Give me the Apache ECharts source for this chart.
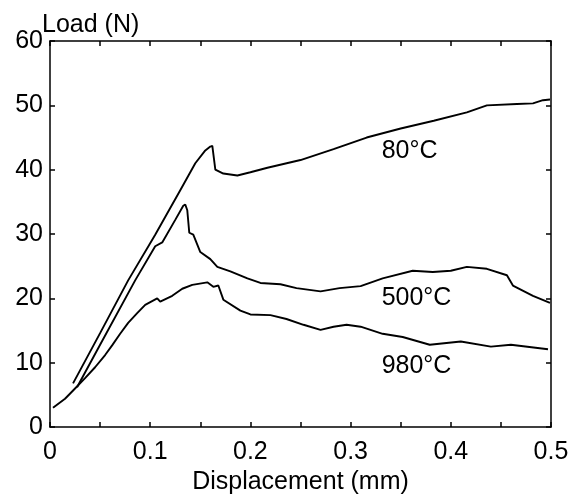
<!DOCTYPE html>
<html>
<head>
<meta charset="utf-8">
<script src="https://cdn.jsdelivr.net/npm/echarts@6/dist/echarts.min.js"></script>
<style>html,body{margin:0;padding:0;background:#fff}#c{width:585px;height:500px}</style>
</head>
<body>
<div id="c"></div>
<script>
const xTicks = [0, 0.1, 0.2, 0.3, 0.4, 0.5];
const yTicks = [0, 10, 20, 30, 40, 50, 60];

const x80 = [0.023, 0.05, 0.078, 0.105, 0.13, 0.145, 0.155, 0.160, 0.162, 0.165, 0.173, 0.187, 0.20, 0.217, 0.25, 0.283, 0.316, 0.35, 0.383, 0.416, 0.436, 0.466, 0.482, 0.492, 0.499];
const y80 = [6.8, 14.6, 22.8, 29.9, 36.8, 41.0, 43.0, 43.6, 43.7, 40.0, 39.4, 39.1, 39.6, 40.3, 41.5, 43.2, 45.0, 46.4, 47.6, 48.9, 50.0, 50.2, 50.3, 50.8, 50.9];

const x500 = [0.027, 0.05, 0.085, 0.105, 0.112, 0.125, 0.133, 0.135, 0.137, 0.139, 0.143, 0.15, 0.16, 0.167, 0.18, 0.197, 0.21, 0.23, 0.246, 0.27, 0.289, 0.31, 0.332, 0.362, 0.382, 0.40, 0.416, 0.436, 0.456, 0.462, 0.482, 0.499];
const y500 = [6.2, 12.8, 22.8, 28.1, 28.7, 32.2, 34.4, 34.6, 33.7, 30.2, 29.9, 27.2, 26.1, 24.9, 24.2, 23.1, 22.4, 22.2, 21.6, 21.1, 21.6, 21.9, 23.1, 24.3, 24.1, 24.3, 24.9, 24.6, 23.6, 22.0, 20.4, 19.3];

const x980 = [0.003, 0.015, 0.025, 0.035, 0.045, 0.055, 0.062, 0.07, 0.078, 0.087, 0.095, 0.107, 0.11, 0.122, 0.132, 0.142, 0.157, 0.163, 0.168, 0.173, 0.19, 0.2, 0.22, 0.236, 0.253, 0.27, 0.283, 0.296, 0.31, 0.332, 0.352, 0.379, 0.41, 0.44, 0.46, 0.497];
const y980 = [3.0, 4.4, 6.0, 7.6, 9.3, 11.2, 12.7, 14.5, 16.2, 17.7, 19.0, 20.0, 19.5, 20.4, 21.5, 22.1, 22.5, 21.8, 22.0, 19.8, 18.1, 17.5, 17.4, 16.8, 15.9, 15.1, 15.6, 15.9, 15.6, 14.5, 14.0, 12.8, 13.3, 12.5, 12.8, 12.1];

const seriesNames = ['80°C', '500°C', '980°C'];
const labelAnchors = [[0.331, 42.9], [0.331, 20.1], [0.331, 9.5]];
const xLabel = 'Displacement (mm)';
const yLabel = 'Load (N)';

const FONT = 'Liberation Sans, Arial, Helvetica, sans-serif';
const FS = 25;
const pairs = (xs, ys) => xs.map((v, i) => [v, ys[i]]);
const axisLineStyle = { color: '#000', width: 1.5 };

const chart = echarts.init(document.getElementById('c'), null, { renderer: 'canvas' });
const lineSeries = (name, data) => ({
  name, type: 'line', data, showSymbol: false, symbol: 'none', smooth: false,
  lineStyle: { color: '#000', width: 1.9 }, animation: false, xAxisIndex: 0, yAxisIndex: 0
});

chart.setOption({
  animation: false,
  backgroundColor: '#fff',
  grid: { left: 50, right: 34, top: 41, bottom: 62, containLabel: false },
  xAxis: [{
    type: 'value', min: 0, max: 0.5, interval: 0.05, position: 'bottom',
    axisLine: { show: true, onZero: false, lineStyle: axisLineStyle },
    axisTick: { show: true, inside: true, length: 5, lineStyle: axisLineStyle },
    splitLine: { show: false },
    axisLabel: {
      margin: 13, color: '#000', fontSize: FS, fontFamily: FONT,
      formatter: v => { const r = Math.round(v * 100) / 100; return xTicks.some(t => Math.abs(t - r) < 1e-9) ? String(r) : ''; }
    },
    name: xLabel, nameLocation: 'middle', nameGap: 37,
    nameTextStyle: { color: '#000', fontSize: FS, fontFamily: FONT }
  }, {
    type: 'value', min: 0, max: 0.5, interval: 0.05, position: 'top',
    axisLine: { show: true, onZero: false, lineStyle: axisLineStyle },
    axisTick: { show: true, inside: true, length: 5, lineStyle: axisLineStyle },
    axisLabel: { show: false }, splitLine: { show: false }
  }],
  yAxis: [{
    type: 'value', min: 0, max: 60, interval: 10, position: 'left',
    axisLine: { show: true, onZero: false, lineStyle: axisLineStyle },
    axisTick: { show: true, inside: true, length: 5, lineStyle: axisLineStyle },
    splitLine: { show: false },
    axisLabel: { margin: 7, color: '#000', fontSize: FS, fontFamily: FONT, padding: [7, 0, 0, 0],
      formatter: v => yTicks.includes(v) ? String(v) : '' }
  }, {
    type: 'value', min: 0, max: 60, interval: 10, position: 'right',
    axisLine: { show: true, onZero: false, lineStyle: axisLineStyle },
    axisTick: { show: true, inside: true, length: 5, lineStyle: axisLineStyle },
    axisLabel: { show: false }, splitLine: { show: false }
  }],
  series: [
    lineSeries(seriesNames[0], pairs(x80, y80)),
    lineSeries(seriesNames[1], pairs(x500, y500)),
    lineSeries(seriesNames[2], pairs(x980, y980))
  ]
});

const texts = seriesNames.map((n, i) => {
  const p = chart.convertToPixel({ xAxisIndex: 0, yAxisIndex: 0 }, labelAnchors[i]);
  return { type: 'text', x: p[0], y: p[1],
    style: { text: n, fill: '#000', font: FS + 'px ' + FONT, verticalAlign: 'middle' } };
});
texts.push({ type: 'text', x: 42, y: 25,
  style: { text: yLabel, fill: '#000', font: FS + 'px ' + FONT, verticalAlign: 'middle' } });
chart.setOption({ graphic: texts });
</script>
</body>
</html>
